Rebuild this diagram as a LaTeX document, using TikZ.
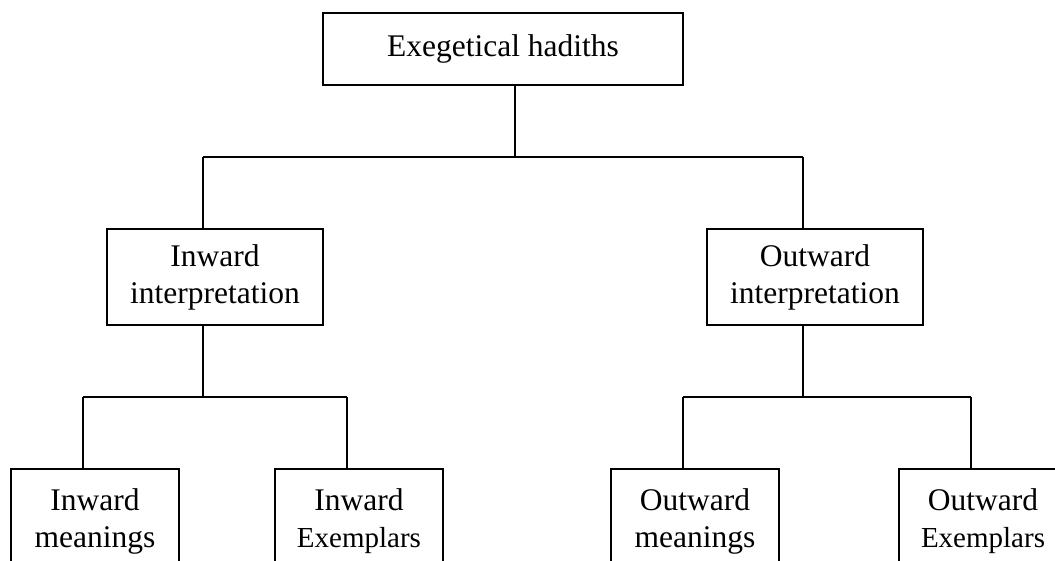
\documentclass[tikz,border=0pt]{standalone}
\usepackage{fontspec}
\setmainfont{Liberation Serif}
\newcommand{\exemfont}{\fontsize{14.5}{18.5}\selectfont}
\begin{document}
\begin{tikzpicture}[x=0.5pt,y=-0.5pt,line width=1pt,
    box/.style={draw,inner sep=0pt,align=center,font=\fontsize{15.75}{18.5}\selectfont},
    midbox/.style={box,minimum width=108pt,minimum height=48pt},
    leafbox/.style={box,minimum width=84pt,minimum height=52pt}]
    \useasboundingbox (0,0) rectangle (1055,561);
    \clip (0,0) rectangle (1055,561);
    %\draw[help lines] (0,0) grid (1055,561);
    \node[box,minimum width=180pt,minimum height=36pt] (root) at (503,49) {Exegetical hadiths};
    \node[midbox] (inward) at (215,277) {Inward\\interpretation};
    \node[midbox] (outward) at (815,277) {Outward\\interpretation};
    \node[leafbox] (inmean) at (95,521) {Inward\\meanings};
    \node[leafbox] (inexem) at (359,521) {Inward\\{\exemfont Exemplars}};
    \node[leafbox] (outmean) at (695,521) {Outward\\meanings};
    \node[leafbox] (outexem) at (983,521) {Outward\\{\exemfont Exemplars}};
    \coordinate (jroot) at (515,157);
    \coordinate (jin) at (203,157);
    \coordinate (jout) at (803,157);
    \coordinate (jinmean) at (83,397);
    \coordinate (jinexem) at (347,397);
    \coordinate (joutmean) at (683,397);
    \coordinate (joutexem) at (971,397);
    \draw (root.south -| jroot) -- (jroot);
    \draw (jin) -- (jout);
    \draw (jin) -- (jin |- inward.north);
    \draw (jout) -- (jout |- outward.north);
    \draw (inward.south -| jin) -- (jin |- jinmean);
    \draw (jinmean) -- (jinexem);
    \draw (jinmean) -- (jinmean |- inmean.north);
    \draw (jinexem) -- (jinexem |- inexem.north);
    \draw (outward.south -| jout) -- (jout |- joutmean);
    \draw (joutmean) -- (joutexem);
    \draw (joutmean) -- (joutmean |- outmean.north);
    \draw (joutexem) -- (joutexem |- outexem.north);
\end{tikzpicture}
\end{document}
